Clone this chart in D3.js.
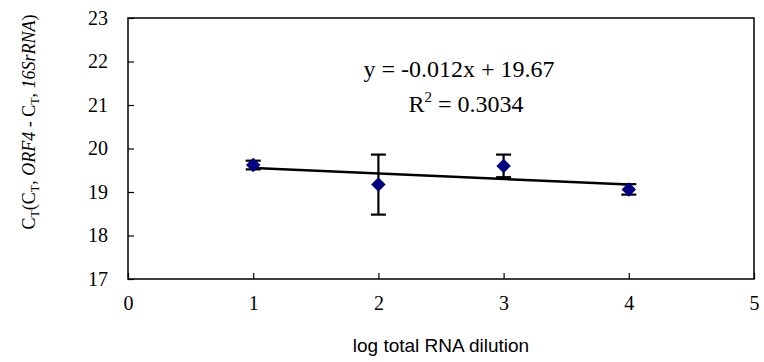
<!DOCTYPE html>
<html>
<head>
<meta charset="utf-8">
<script src="https://cdn.jsdelivr.net/npm/d3@7"></script>
<style>
  body { margin: 0; background: #fff; }
</style>
</head>
<body>
<div id="chart"></div>
<script>
const dilution = [1, 2, 3, 4]
const ctMean = [19.62, 19.17, 19.6, 19.06]
const ctError = [0.1, 0.69, 0.26, 0.12]
const xTicks = [0, 1, 2, 3, 4, 5]
const yTicks = [17, 18, 19, 20, 21, 22, 23]
const equationText = 'y = -0.012x + 19.67'
const r2Value = '0.3034'

const SERIF = 'Liberation Serif, Times New Roman, serif'
const SANS = 'Liberation Sans, Arial, sans-serif'

const render = () => {
  const width = 764
  const height = 362
  const margin = { top: 18, right: 10, bottom: 83, left: 128 }

  const data = dilution.map((x, i) => ({ x, y: ctMean[i], err: ctError[i] }))

  const svg = d3
    .select('#chart')
    .append('svg')
    .attr('width', width)
    .attr('height', height)
    .attr('font-family', SERIF)

  const xScale = d3
    .scaleLinear()
    .domain([0, 5])
    .range([margin.left, width - margin.right])

  const yScale = d3
    .scaleLinear()
    .domain([17, 23])
    .range([height - margin.bottom, margin.top])

  // frame
  svg
    .append('rect')
    .attr('x', xScale(0))
    .attr('y', yScale(23))
    .attr('width', xScale(5) - xScale(0))
    .attr('height', yScale(17) - yScale(23))
    .attr('fill', 'none')
    .attr('stroke', '#000')
    .attr('stroke-width', 1.5)

  // axes, ticks pointing inside
  const xAxis = svg
    .append('g')
    .attr('transform', `translate(0, ${yScale(17)})`)
    .call(
      d3
        .axisBottom(xScale)
        .tickValues(xTicks)
        .tickFormat(d3.format('d'))
        .tickSizeInner(-6)
        .tickSizeOuter(0)
        .tickPadding(17)
    )
    .attr('font-family', SERIF)
    .attr('font-size', 20)
  xAxis.select('.domain').remove()
  xAxis.selectAll('.tick line').attr('stroke-width', 1.2)
  xAxis.selectAll('text').attr('fill', '#000')

  const yAxis = svg
    .append('g')
    .attr('transform', `translate(${xScale(0)}, 0)`)
    .call(
      d3
        .axisLeft(yScale)
        .tickValues(yTicks)
        .tickFormat(d3.format('d'))
        .tickSizeInner(-6)
        .tickSizeOuter(0)
        .tickPadding(20)
    )
    .attr('font-family', SERIF)
    .attr('font-size', 20)
  yAxis.select('.domain').remove()
  yAxis.selectAll('.tick line').attr('stroke-width', 1.2)
  yAxis.selectAll('text').attr('fill', '#000')

  // linear trend line (least squares on the means)
  const mx = d3.mean(data, (d) => d.x)
  const my = d3.mean(data, (d) => d.y)
  const slope =
    d3.sum(data, (d) => (d.x - mx) * (d.y - my)) / d3.sum(data, (d) => (d.x - mx) ** 2)
  const intercept = my - slope * mx
  const xExtent = d3.extent(data, (d) => d.x)

  svg
    .append('path')
    .datum(xExtent.map((x) => ({ x, y: intercept + slope * x })))
    .attr('fill', 'none')
    .attr('stroke', '#000')
    .attr('stroke-width', 2.5)
    .attr('d', d3.line().x((d) => xScale(d.x)).y((d) => yScale(d.y)))

  // error bars
  const bars = svg.append('g').attr('stroke', '#000').attr('stroke-width', 2.2)
  bars
    .selectAll('line.stem')
    .data(data)
    .enter()
    .append('line')
    .attr('x1', (d) => xScale(d.x))
    .attr('x2', (d) => xScale(d.x))
    .attr('y1', (d) => yScale(d.y + d.err))
    .attr('y2', (d) => yScale(d.y - d.err))
  ;[1, -1].forEach((sign) => {
    bars
      .selectAll(null)
      .data(data)
      .enter()
      .append('line')
      .attr('x1', (d) => xScale(d.x) - 7.5)
      .attr('x2', (d) => xScale(d.x) + 7.5)
      .attr('y1', (d) => yScale(d.y + sign * d.err))
      .attr('y2', (d) => yScale(d.y + sign * d.err))
  })

  // diamond markers
  svg
    .append('g')
    .selectAll('path')
    .data(data)
    .enter()
    .append('path')
    .attr('d', d3.symbol(d3.symbolSquare, 105))
    .attr('transform', (d) => `translate(${xScale(d.x)}, ${yScale(d.y)}) rotate(45)`)
    .attr('fill', '#000080')

  // equation
  svg
    .append('text')
    .attr('x', 459)
    .attr('y', 77)
    .attr('text-anchor', 'middle')
    .attr('font-size', 24)
    .text(equationText)

  const r2 = svg
    .append('text')
    .attr('x', 466)
    .attr('y', 112)
    .attr('text-anchor', 'middle')
    .attr('font-size', 24)
  r2.append('tspan').text('R')
  r2.append('tspan').attr('font-size', 15).attr('dy', -10).text('2')
  r2.append('tspan').attr('dy', 10).text(` = ${r2Value}`)

  // axis titles
  svg
    .append('text')
    .attr('x', xScale(2.5))
    .attr('y', 352)
    .attr('text-anchor', 'middle')
    .attr('font-family', SANS)
    .attr('font-size', 19)
    .text('log total RNA dilution')

  const yTitle = svg
    .append('text')
    .attr('transform', 'translate(35, 122) rotate(-90)')
    .attr('text-anchor', 'middle')
    .attr('font-size', 18)
  const sub = (t) => yTitle.append('tspan').attr('font-size', 12).attr('dy', 4).text(t)
  const norm = (t) => yTitle.append('tspan').attr('dy', -4).text(t)
  yTitle.append('tspan').text('C')
  sub('T')
  norm('(C')
  sub('T')
  norm(', ')
  yTitle.append('tspan').attr('font-style', 'italic').text('ORF4')
  yTitle.append('tspan').text(' - C')
  sub('T')
  norm(', ')
  yTitle.append('tspan').attr('font-style', 'italic').text('16SrRNA')
  yTitle.append('tspan').text(')')
}

render()
</script>
</body>
</html>
